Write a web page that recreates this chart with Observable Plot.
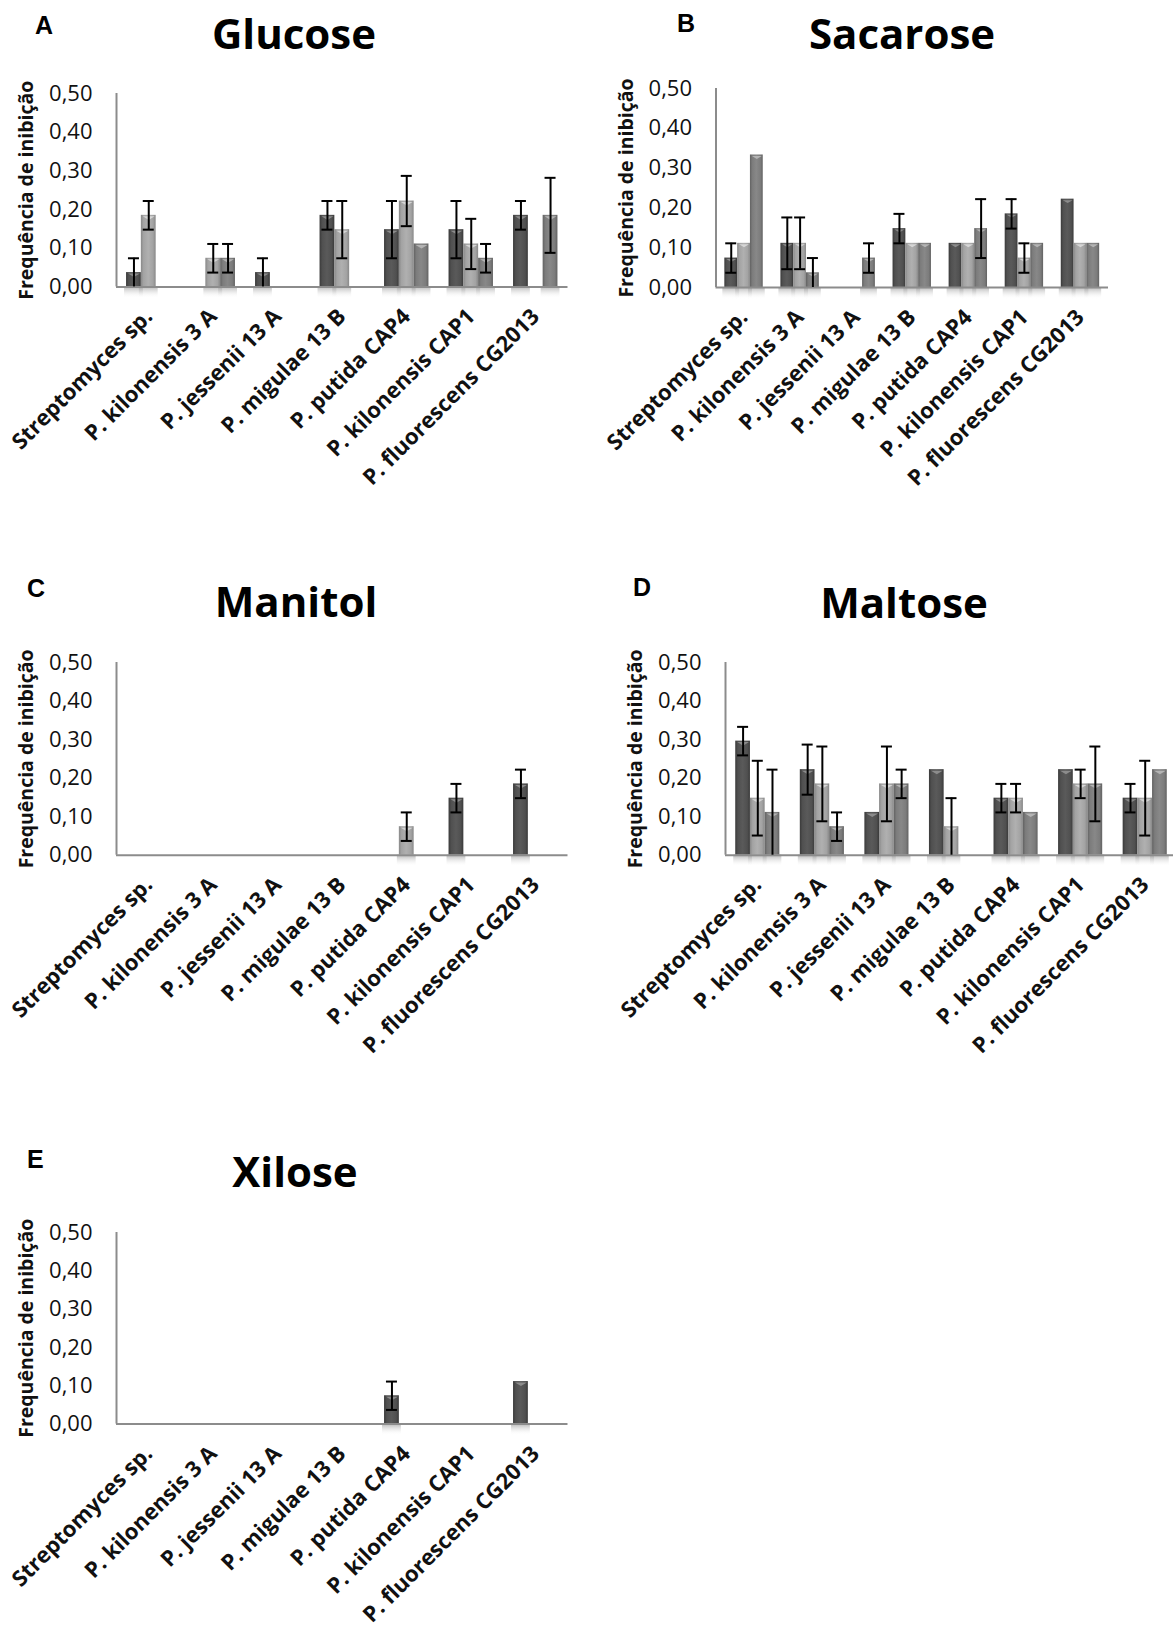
<!DOCTYPE html>
<html><head><meta charset="utf-8">
<script src="https://cdn.jsdelivr.net/npm/d3@7"></script>
<script src="https://cdn.jsdelivr.net/npm/@observablehq/plot@0.6"></script>
<style>
html,body{margin:0;padding:0;background:#fff;}
body{width:1173px;height:1629px;position:relative;overflow:hidden;font-family:"Open Sans",sans-serif;}
.panel{position:absolute;}
.title{position:absolute;font-weight:700;font-size:42px;line-height:1;transform:translateX(-50%);white-space:nowrap;color:#000;}
.letter{position:absolute;font-family:"Liberation Sans",Arial,sans-serif;font-weight:700;font-size:25px;line-height:1;color:#000;}
g[aria-label="x-axis tick label"]{font-weight:700;font-size:22px;}
g[aria-label="y-axis tick label"]{font-size:22px;}
g[aria-label="y-axis label"]{font-weight:700;font-size:19.5px;}
</style></head><body>
<script>
// ---- data ----
const categories = ["Streptomyces sp.", "P. kilonensis 3 A", "P. jessenii 13 A", "P. migulae 13 B", "P. putida CAP4", "P. kilonensis CAP1", "P. fluorescens CG2013"];
const tickValues = [0, 0.1, 0.2, 0.3, 0.4, 0.5];
const yLabel = "Frequência de inibição";

// Glucose (three series: dark, light, medium) and error half-widths
const glucose1 = [0.037, 0, 0.037, 0.185, 0.148, 0.148, 0.185];
const glucose2 = [0.185, 0.074, 0, 0.148, 0.222, 0.111, 0];
const glucose3 = [0, 0.074, 0, 0, 0.111, 0.074, 0.185];
const glucoseErr1 = [0.037, 0, 0.037, 0.037, 0.074, 0.074, 0.037];
const glucoseErr2 = [0.037, 0.037, 0, 0.074, 0.065, 0.065, 0];
const glucoseErr3 = [0, 0.037, 0, 0, 0, 0.037, 0.097];

// Sacarose
const sacarose1 = [0.074, 0.111, 0, 0.148, 0.111, 0.185, 0.222];
const sacarose2 = [0.111, 0.111, 0, 0.111, 0.111, 0.074, 0.111];
const sacarose3 = [0.333, 0.037, 0.074, 0.111, 0.148, 0.111, 0.111];
const sacaroseErr1 = [0.037, 0.065, 0, 0.037, 0, 0.037, 0];
const sacaroseErr2 = [0, 0.065, 0, 0, 0, 0.037, 0];
const sacaroseErr3 = [0, 0.037, 0.037, 0, 0.074, 0, 0];

// Manitol
const manitol1 = [0, 0, 0, 0, 0, 0.148, 0.185];
const manitol2 = [0, 0, 0, 0, 0.074, 0, 0];
const manitol3 = [0, 0, 0, 0, 0, 0, 0];
const manitolErr1 = [0, 0, 0, 0, 0, 0.037, 0.037];
const manitolErr2 = [0, 0, 0, 0, 0.037, 0, 0];
const manitolErr3 = [0, 0, 0, 0, 0, 0, 0];

// Maltose
const maltose1 = [0.296, 0.222, 0.111, 0.222, 0.148, 0.222, 0.148];
const maltose2 = [0.148, 0.185, 0.185, 0.074, 0.148, 0.185, 0.148];
const maltose3 = [0.111, 0.074, 0.185, 0, 0.111, 0.185, 0.222];
const maltoseErr1 = [0.037, 0.065, 0, 0, 0.037, 0, 0.037];
const maltoseErr2 = [0.097, 0.097, 0.097, 0.074, 0.037, 0.037, 0.097];
const maltoseErr3 = [0.111, 0.037, 0.037, 0, 0, 0.097, 0];

// Xilose
const xilose1 = [0, 0, 0, 0, 0.074, 0, 0.111];
const xilose2 = [0, 0, 0, 0, 0, 0, 0];
const xilose3 = [0, 0, 0, 0, 0, 0, 0];
const xiloseErr1 = [0, 0, 0, 0, 0.037, 0, 0];
const xiloseErr2 = [0, 0, 0, 0, 0, 0, 0];
const xiloseErr3 = [0, 0, 0, 0, 0, 0, 0];

// ---- styles ----
const seriesBase = ["#505050", "#a3a3a3", "#7c7c7c"];
const seriesEdge = ["#3a3a3a", "#888888", "#626262"];
const seriesMid  = ["#5a5a5a", "#b0b0b0", "#888888"];
const seriesTri  = ["#8c8c8c", "#d6d6d6", "#b4b4b4"];
const axisGray = "#8c8c8c";

const panels = [
  {id: "A", title: "Glucose", s: [glucose1, glucose2, glucose3], e: [glucoseErr1, glucoseErr2, glucoseErr3],
   left: 0, plotLeft: 116, plotRight: 567.5, yTop: 93.3, yBottom: 286.7, barW: 14.8,
   letter: [35, 13], titlePos: [294, 12]},
  {id: "B", title: "Sacarose", s: [sacarose1, sacarose2, sacarose3], e: [sacaroseErr1, sacaroseErr2, sacaroseErr3],
   left: 600, plotLeft: 715.5, plotRight: 1108, yTop: 88, yBottom: 287, barW: 12.8,
   letter: [677, 11], titlePos: [902, 12]},
  {id: "C", title: "Manitol", s: [manitol1, manitol2, manitol3], e: [manitolErr1, manitolErr2, manitolErr3],
   left: 0, plotLeft: 116, plotRight: 567.5, yTop: 662.3, yBottom: 855, barW: 14.8,
   letter: [27, 576], titlePos: [296, 580]},
  {id: "D", title: "Maltose", s: [maltose1, maltose2, maltose3], e: [maltoseErr1, maltoseErr2, maltoseErr3],
   left: 600, plotLeft: 725, plotRight: 1177, yTop: 662.3, yBottom: 855, barW: 14.7,
   letter: [633, 575], titlePos: [904, 581]},
  {id: "E", title: "Xilose", s: [xilose1, xilose2, xilose3], e: [xiloseErr1, xiloseErr2, xiloseErr3],
   left: 0, plotLeft: 116, plotRight: 567.5, yTop: 1231.7, yBottom: 1423.3, barW: 14.8,
   letter: [27, 1147], titlePos: [295, 1150]}
];

const tri = {
  draw(ctx, size) {
    const r = Math.sqrt(size / Math.PI);
    ctx.moveTo(-r, 0); ctx.lineTo(r, 0); ctx.lineTo(0, r * 0.6); ctx.closePath();
  }
};

for (const p of panels) {
  const mt = 40, mb = 225, mr = 12;
  const top = p.yTop - mt;
  const ml = p.plotLeft - p.left;
  const plotW = p.plotRight - p.plotLeft;
  const plotH = p.yBottom - p.yTop;
  const catW = plotW / categories.length;
  const g = (catW - 3 * p.barW) / 2;
  const capW = 11;
  const marks = [];
  for (let i = 0; i < 3; i++) {
    const rows = categories.map((c, j) => ({c, v: p.s[i][j], err: p.e[i][j]}));
    const bars = rows.filter(d => d.v > 0);
    const cx = g + (i + 0.5) * p.barW;
    // soft shadow under each bar, below the baseline
    marks.push(Plot.barY(bars, {x: "c", y1: 0, y2: -0.03, fill: `url(#shadow-${p.id})`,
      insetLeft: g + i * p.barW - 2, insetRight: catW - g - (i + 1) * p.barW - 2}));
    marks.push(Plot.barY(bars, {x: "c", y: "v", fill: `url(#grad-${p.id}-${i})`,
      insetLeft: g + i * p.barW, insetRight: catW - g - (i + 1) * p.barW}));
    marks.push(Plot.dot(bars, {x: "c", y: "v", symbol: tri, r: p.barW / 2 - 1.5, fill: seriesTri[i],
      stroke: "none", dx: cx - catW / 2, dy: 1}));
  }
  marks.push(Plot.ruleY([0], {stroke: axisGray, strokeWidth: 2}));
  marks.push(Plot.ruleX([categories[0]], {x: d => d, y1: 0, y2: 0.5, stroke: axisGray, strokeWidth: 2, dx: -catW / 2}));
  for (let i = 0; i < 3; i++) {
    const rows = categories.map((c, j) => ({c, v: p.s[i][j], err: p.e[i][j]}))
      .filter(d => d.err > 0)
      .map(d => ({c: d.c, lo: Math.max(0, d.v - d.err), hi: d.v + d.err}));
    const cx = g + (i + 0.5) * p.barW;
    marks.push(Plot.ruleX(rows, {x: "c", y1: "lo", y2: "hi", stroke: "#000", strokeWidth: 2, dx: cx - catW / 2}));
    marks.push(Plot.tickY(rows, {x: "c", y: "hi", stroke: "#000", strokeWidth: 2,
      insetLeft: cx - capW / 2, insetRight: catW - cx - capW / 2}));
    marks.push(Plot.tickY(rows.filter(d => d.lo > 0), {x: "c", y: "lo", stroke: "#000", strokeWidth: 2,
      insetLeft: cx - capW / 2, insetRight: catW - cx - capW / 2}));
  }

  const svg = Plot.plot({
    width: ml + plotW + mr,
    height: mt + plotH + mb,
    marginLeft: ml, marginRight: mr, marginTop: mt, marginBottom: mb,
    style: {fontFamily: "'Open Sans', sans-serif", fontSize: "22px", color: "#111", background: "transparent", maxWidth: "none", overflow: "visible"},
    x: {domain: categories, padding: 0, round: false, tickRotate: -45, tickSize: 0, tickPadding: 26, label: null},
    y: {domain: [0, 0.5], ticks: tickValues, tickFormat: d => d.toFixed(2).replace(".", ","), tickSize: 0, tickPadding: 24,
        label: yLabel, labelAnchor: "center", labelOffset: 97, labelArrow: "none"},
    marks
  });

  const ns = "http://www.w3.org/2000/svg";
  const defs = document.createElementNS(ns, "defs");
  let html = `<linearGradient id="shadow-${p.id}" x1="0" x2="0" y1="0" y2="1">
      <stop offset="0" stop-color="#9a9a9a" stop-opacity="0.75"/>
      <stop offset="1" stop-color="#ffffff" stop-opacity="0"/>
    </linearGradient>`;
  for (let i = 0; i < 3; i++) {
    html += `<linearGradient id="grad-${p.id}-${i}" x1="0" x2="1" y1="0" y2="0">
      <stop offset="0" stop-color="${seriesEdge[i]}"/>
      <stop offset="0.18" stop-color="${seriesBase[i]}"/>
      <stop offset="0.5" stop-color="${seriesMid[i]}"/>
      <stop offset="0.82" stop-color="${seriesBase[i]}"/>
      <stop offset="1" stop-color="${seriesEdge[i]}"/>
    </linearGradient>`;
  }
  defs.innerHTML = html;
  svg.insertBefore(defs, svg.firstChild);

  const div = document.createElement("div");
  div.className = "panel";
  div.style.left = p.left + "px";
  div.style.top = top + "px";
  div.appendChild(svg);
  document.body.appendChild(div);

  const t = document.createElement("div");
  t.className = "title";
  t.textContent = p.title;
  t.style.left = p.titlePos[0] + "px";
  t.style.top = p.titlePos[1] + "px";
  document.body.appendChild(t);

  const l = document.createElement("div");
  l.className = "letter";
  l.textContent = p.id;
  l.style.left = p.letter[0] + "px";
  l.style.top = p.letter[1] + "px";
  document.body.appendChild(l);
}
</script>
</body></html>
